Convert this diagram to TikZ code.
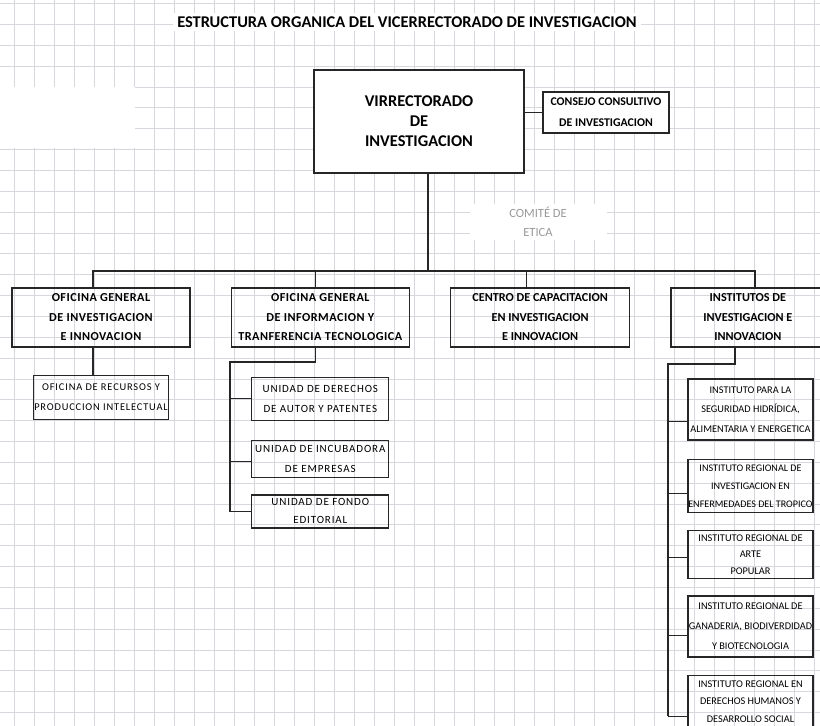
\documentclass[tikz,border=0pt]{standalone}
\usepackage{fontspec}
\setmainfont{Carlito}
\newfontfamily\widefont[LetterSpace=8]{Carlito}
\newfontfamily\openfont[LetterSpace=4]{Carlito}
\usepackage{tikz}
\usetikzlibrary{positioning, calc}

\begin{document}
\begin{tikzpicture}[x=1pt, y=-1pt,
    gridline/.style={draw={rgb,255:red,214;green,216;blue,222}, line width=0.6pt},
    box/.style={draw=black!85, line width=1.3pt, inner sep=0pt, align=center},
    head/.style={box, minimum height=59pt, font=\bfseries\fontsize{12.2}{19.5}\selectfont},
    unit/.style={box, minimum width=137pt, font=\widefont\fontsize{11}{19.5}\selectfont},
    inst/.style={box, minimum width=125pt, font=\fontsize{10.3}{19.5}\selectfont},
    link/.style={draw=black!85, line width=1.2pt}]
    \useasboundingbox (0,0) rectangle (820,726);
    \clip (0,0) rectangle (820,726);
    % papel cuadriculado
    \fill[white] (0,0) rectangle (820,726);
    \foreach \gx in {14,34,...,814} \draw[gridline] (\gx,0) -- (\gx,726);
    \foreach \gy in {0,...,34} \draw[gridline] (0,{3.5+20.85*\gy}) -- (820,{3.5+20.85*\gy});
    \fill[white] (0,87) rectangle (135,148);

    \node (titulo) [fill=white, inner sep=4pt, font=\bfseries\fontsize{16.4}{18}\selectfont] at (407,22) {ESTRUCTURA ORGANICA DEL VICERRECTORADO DE INVESTIGACION};

    % vicerrectorado
    \node (vr) [box, fill=white, line width=2pt, minimum width=210pt, minimum height=103pt, font=\bfseries\fontsize{16.4}{20}\selectfont] at (419,121.5) {VIRRECTORADO\\DE\\INVESTIGACION};
    \node (cc) [box, fill=white, minimum width=126pt, minimum height=41pt, font=\bfseries\fontsize{11.8}{21}\selectfont] at (606,112.5) {CONSEJO CONSULTIVO\\DE INVESTIGACION};
    \node (ce) [fill=white, text=black!40, align=center, minimum width=137pt, minimum height=35pt, font=\fontsize{12.5}{19}\selectfont] at (538,222) {COMITÉ DE\\ETICA};

    % oficinas y centros
    \node (ogii) [head, minimum width=178pt, font=\openfont\bfseries\fontsize{12.2}{19.5}\selectfont] at (101,317.5) {OFICINA GENERAL\\DE INVESTIGACION\\E INNOVACION};
    \node (ogitt) [head, minimum width=178pt, right=40pt of ogii, font=\openfont\bfseries\fontsize{12.2}{19.5}\selectfont] {OFICINA GENERAL\\DE INFORMACION Y\\TRANFERENCIA TECNOLOGICA};
    \node (ccii) [head, minimum width=179pt, right=40pt of ogitt] {CENTRO DE CAPACITACION\\EN INVESTIGACION\\E INNOVACION};
    \node (iii) [head, minimum width=154pt, right=40pt of ccii] {INSTITUTOS DE\\INVESTIGACION E\\INNOVACION};

    % unidades
    \node (orpi) [unit, minimum width=135pt, minimum height=44pt, below=27pt of ogii, font=\widefont\fontsize{10.4}{20}\selectfont] {OFICINA DE RECURSOS Y\\PRODUCCION INTELECTUAL};
    \node (uda) [unit, minimum height=43pt, below=29pt of ogitt] {UNIDAD DE DERECHOS\\DE AUTOR Y PATENTES};
    \node (uie) [unit, minimum height=37pt, below=19pt of uda] {UNIDAD DE INCUBADORA\\DE EMPRESAS};
    \node (ufe) [unit, minimum height=33pt, below=16pt of uie, font=\widefont\fontsize{11}{18}\selectfont] {UNIDAD DE FONDO\\EDITORIAL};

    % institutos
    \node (i1) [inst, minimum height=61pt] at (750.5,409.5) {INSTITUTO PARA LA\\SEGURIDAD HIDRÍDICA,\\ALIMENTARIA Y ENERGETICA};
    \node (i2) [inst, minimum height=53pt, below=18pt of i1, font=\fontsize{10.1}{18}\selectfont] {INSTITUTO REGIONAL DE\\INVESTIGACION EN\\ENFERMEDADES DEL TROPICO};
    \node (i3) [inst, minimum height=48pt, below=17pt of i2, font=\fontsize{10.3}{16.5}\selectfont] {INSTITUTO REGIONAL DE\\ARTE\\POPULAR};
    \node (i4) [inst, minimum height=61pt, below=16pt of i3, font=\fontsize{10.3}{20}\selectfont] {INSTITUTO REGIONAL DE\\GANADERIA, BIODIVERDIDAD\\Y BIOTECNOLOGIA};
    \node (i5) [inst, minimum height=52pt, below=17pt of i4, font=\fontsize{10.3}{17.5}\selectfont] {INSTITUTO REGIONAL EN\\DERECHOS HUMANOS Y\\DESARROLLO SOCIAL};

    % conexiones
    \coordinate (bus) at (428,271);
    \coordinate (t2) at (230,362);
    \coordinate (t4) at (668,364);
    \draw[link] (cc.west) -- (cc.west -| vr.east);
    \draw[link] ([xshift=9pt]vr.south) -- (bus);
    \draw[link] ([xshift=-8pt]ogii.north) |- (bus) -| ([xshift=7pt]iii.north);
    \draw[link] ([xshift=-5pt]ogitt.north) -- ([xshift=-5pt]ogitt.north |- bus);
    \draw[link] ([xshift=-14pt]ccii.north) -- ([xshift=-14pt]ccii.north |- bus);
    \draw[link] ([xshift=-8pt]ogii.south) -- ([xshift=-8pt]ogii.south |- orpi.north);
    \draw[link] ([xshift=-5pt]ogitt.south) |- (t2) -- (t2 |- ufe.west) -- (ufe.west);
    \draw[link] (uda.west) -- (uda.west -| t2);
    \draw[link] ([yshift=-2pt]uie.west) -- ([yshift=-2pt]uie.west -| t2);
    \draw[link] ([xshift=-13pt]iii.south) |- (t4) -- ([yshift=-15pt]t4 |- i5.west);
    \foreach \inst/\dy in {i1/12, i2/8, i3/3, i4/9, i5/15}
        \draw[link] ([yshift=-\dy pt]\inst.west) -- ([yshift=-\dy pt]\inst.west -| t4);
\end{tikzpicture}
\end{document}
